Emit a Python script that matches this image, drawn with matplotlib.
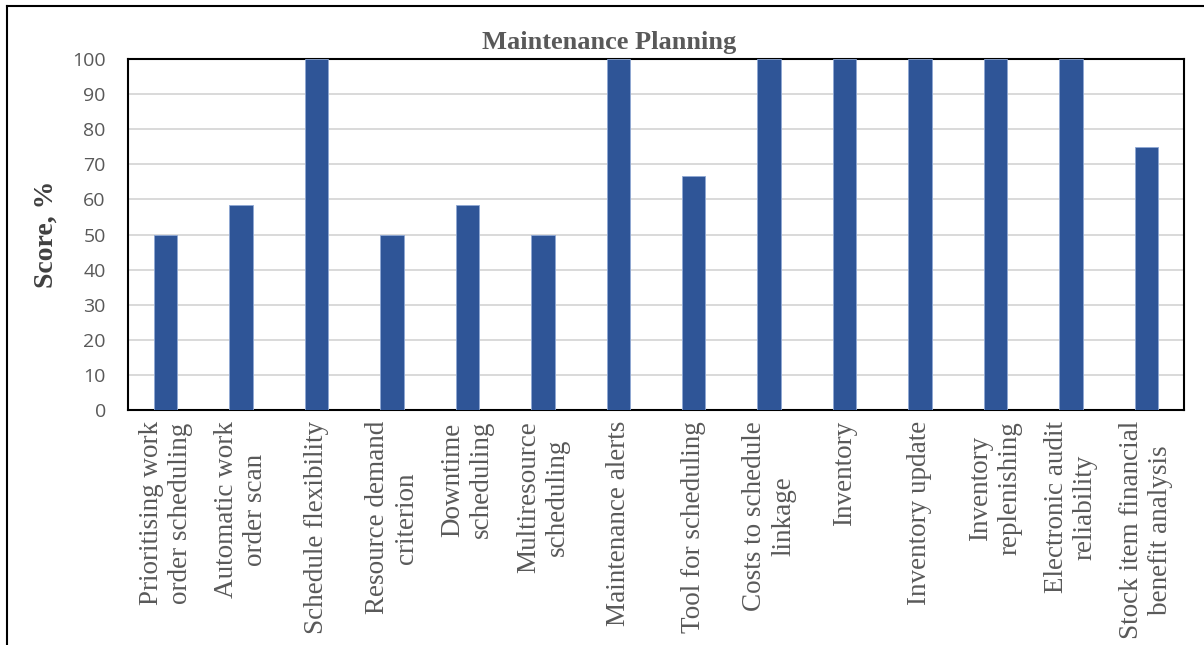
import matplotlib
matplotlib.use('Agg')
import matplotlib.pyplot as plt
from matplotlib.lines import Line2D

categories = ['Prioritising work\norder scheduling', 'Automatic work\norder scan',
              'Schedule flexibility', 'Resource demand\ncriterion',
              'Downtime\nscheduling', 'Multiresource\nscheduling',
              'Maintenance alerts', 'Tool for scheduling',
              'Costs to schedule\nlinkage', 'Inventory', 'Inventory update',
              'Inventory\nreplenishing', 'Electronic audit\nreliability',
              'Stock item financial\nbenefit analysis']
scores = [50, 58.3, 100, 50, 58.3, 50, 100, 66.7, 100, 100, 100, 100, 100, 75]
yticks = list(range(0, 101, 10))

W, H = 1204, 645
fig = plt.figure(figsize=(W / 100, H / 100), dpi=100)
ax = fig.add_axes([128 / W, 1 - 410 / H, (1184 - 128) / W, (410 - 59) / H])

x = list(range(len(categories)))
ax.bar(x, scores, width=0.31, color='#2F5597', edgecolor='#8FA8D4',
       linewidth=0.6, zorder=3)

ax.set_xlim(-0.5, len(categories) - 0.5)
ax.set_ylim(0, 100)
ax.set_yticks(yticks)
ax.set_yticklabels([str(t) for t in yticks], family='Open Sans',
                   fontsize=14, color='#595959')
ax.set_xticks(x)
ax.set_xticklabels(categories, rotation=90, ha='center', va='top',
                   multialignment='center', family='Liberation Serif',
                   fontsize=19.5, color='#595959', linespacing=1.2)
ax.tick_params(axis='both', length=0)
ax.tick_params(axis='y', pad=16)
ax.tick_params(axis='x', pad=8)
ax.grid(axis='y', color='#D9D9D9', linewidth=1.4, zorder=0)
for s in ax.spines.values():
    s.set_color('black')
    s.set_linewidth(1.5)

ax.set_ylabel('Score, %', family='Liberation Serif', fontweight='bold',
              fontsize=20, color='#404040', labelpad=10)
fig.text(609 / W, 1 - 42 / H, 'Maintenance Planning', family='Liberation Serif',
         fontweight='bold', fontsize=19, color='#595959',
         ha='center', va='center')

# outer frame (left and top edges)
fig.add_artist(Line2D([7 / W, 7 / W], [0, 1 - 6 / H], transform=fig.transFigure,
                      color='black', linewidth=1.5))
fig.add_artist(Line2D([7 / W, 1], [1 - 6 / H, 1 - 6 / H], transform=fig.transFigure,
                      color='black', linewidth=1.5))

fig.savefig('out.png', dpi=100)
